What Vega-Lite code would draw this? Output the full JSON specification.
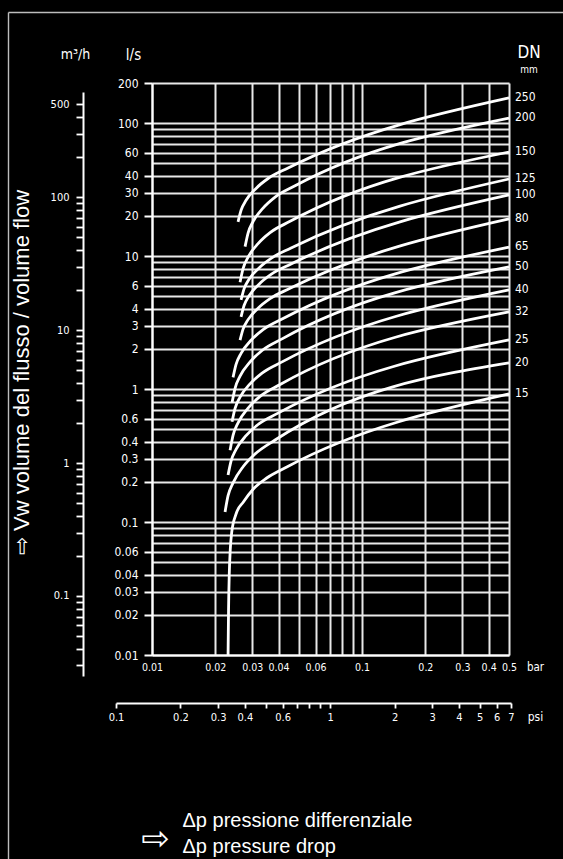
{
  "$schema": "https://vega.github.io/schema/vega-lite/v6.json",
  "background": "#000000",
  "width": 357,
  "height": 572,
  "autosize": {"type": "none"},
  "padding": {"left": 152, "top": 83, "right": 54, "bottom": 204},
  "config": {
    "view": {"stroke": null},
    "font": "Liberation Sans",
    "axis": {
      "labelColor": "#ffffff",
      "titleColor": "#ffffff",
      "domainColor": "#ffffff",
      "tickColor": "#ffffff",
      "gridColor": "#e8e8e8",
      "titleFontWeight": "normal",
      "labelFont": "Liberation Sans Narrow, DejaVu Sans Condensed, Liberation Sans",
      "titleFont": "Liberation Sans Narrow, DejaVu Sans Condensed, Liberation Sans"
    }
  },
  "datasets": {
    "curves": [
      {"dn": "250", "dp": 0.025676, "q": 18.08},
      {"dn": "250", "dp": 0.026535, "q": 22.08},
      {"dn": "250", "dp": 0.02803, "q": 26.26},
      {"dn": "250", "dp": 0.031278, "q": 32.25},
      {"dn": "250", "dp": 0.035676, "q": 38.27},
      {"dn": "250", "dp": 0.044425, "q": 45.92},
      {"dn": "250", "dp": 0.5, "q": 154.3},
      {"dn": "200", "dp": 0.027726, "q": 11.77},
      {"dn": "200", "dp": 0.028656, "q": 14.89},
      {"dn": "200", "dp": 0.030265, "q": 18.16},
      {"dn": "200", "dp": 0.033771, "q": 22.95},
      {"dn": "200", "dp": 0.038523, "q": 27.77},
      {"dn": "200", "dp": 0.047958, "q": 33.76},
      {"dn": "200", "dp": 0.5, "q": 109.1},
      {"dn": "150", "dp": 0.026244, "q": 6.359},
      {"dn": "150", "dp": 0.027125, "q": 8.04},
      {"dn": "150", "dp": 0.028656, "q": 9.809},
      {"dn": "150", "dp": 0.03197, "q": 12.4},
      {"dn": "150", "dp": 0.036467, "q": 15.0},
      {"dn": "150", "dp": 0.045397, "q": 18.23},
      {"dn": "150", "dp": 0.5, "q": 60.56},
      {"dn": "125", "dp": 0.026535, "q": 4.682},
      {"dn": "125", "dp": 0.027424, "q": 5.668},
      {"dn": "125", "dp": 0.028967, "q": 6.681},
      {"dn": "125", "dp": 0.032324, "q": 8.144},
      {"dn": "125", "dp": 0.036869, "q": 9.612},
      {"dn": "125", "dp": 0.045897, "q": 11.49},
      {"dn": "125", "dp": 0.5, "q": 37.95},
      {"dn": "100", "dp": 0.026535, "q": 3.488},
      {"dn": "100", "dp": 0.027424, "q": 4.243},
      {"dn": "100", "dp": 0.028967, "q": 5.021},
      {"dn": "100", "dp": 0.032324, "q": 6.145},
      {"dn": "100", "dp": 0.036869, "q": 7.272},
      {"dn": "100", "dp": 0.045897, "q": 8.708},
      {"dn": "100", "dp": 0.5, "q": 28.77},
      {"dn": "80", "dp": 0.026244, "q": 2.33},
      {"dn": "80", "dp": 0.027125, "q": 2.82},
      {"dn": "80", "dp": 0.028656, "q": 3.324},
      {"dn": "80", "dp": 0.03197, "q": 4.053},
      {"dn": "80", "dp": 0.036467, "q": 4.783},
      {"dn": "80", "dp": 0.045397, "q": 5.716},
      {"dn": "80", "dp": 0.5, "q": 18.99},
      {"dn": "65", "dp": 0.024308, "q": 1.223},
      {"dn": "65", "dp": 0.025119, "q": 1.531},
      {"dn": "65", "dp": 0.026535, "q": 1.854},
      {"dn": "65", "dp": 0.029609, "q": 2.325},
      {"dn": "65", "dp": 0.033771, "q": 2.797},
      {"dn": "65", "dp": 0.042055, "q": 3.388},
      {"dn": "65", "dp": 0.5, "q": 11.69},
      {"dn": "50", "dp": 0.024043, "q": 0.7895},
      {"dn": "50", "dp": 0.024847, "q": 1.012},
      {"dn": "50", "dp": 0.026244, "q": 1.249},
      {"dn": "50", "dp": 0.029286, "q": 1.597},
      {"dn": "50", "dp": 0.033403, "q": 1.949},
      {"dn": "50", "dp": 0.041597, "q": 2.383},
      {"dn": "50", "dp": 0.5, "q": 8.27},
      {"dn": "40", "dp": 0.024043, "q": 0.5679},
      {"dn": "40", "dp": 0.024847, "q": 0.7146},
      {"dn": "40", "dp": 0.026244, "q": 0.8685},
      {"dn": "40", "dp": 0.029286, "q": 1.093},
      {"dn": "40", "dp": 0.033403, "q": 1.319},
      {"dn": "40", "dp": 0.041597, "q": 1.6},
      {"dn": "40", "dp": 0.5, "q": 5.555},
      {"dn": "32", "dp": 0.023522, "q": 0.3459},
      {"dn": "32", "dp": 0.024308, "q": 0.4481},
      {"dn": "32", "dp": 0.025676, "q": 0.5572},
      {"dn": "32", "dp": 0.028656, "q": 0.7183},
      {"dn": "32", "dp": 0.032678, "q": 0.8812},
      {"dn": "32", "dp": 0.040694, "q": 1.081},
      {"dn": "32", "dp": 0.5, "q": 3.795},
      {"dn": "25", "dp": 0.023014, "q": 0.2259},
      {"dn": "25", "dp": 0.023781, "q": 0.287},
      {"dn": "25", "dp": 0.025119, "q": 0.3513},
      {"dn": "25", "dp": 0.02803, "q": 0.4458},
      {"dn": "25", "dp": 0.03197, "q": 0.5408},
      {"dn": "25", "dp": 0.039811, "q": 0.6588},
      {"dn": "25", "dp": 0.5, "q": 2.337},
      {"dn": "20", "dp": 0.022269, "q": 0.1191},
      {"dn": "20", "dp": 0.023014, "q": 0.1578},
      {"dn": "20", "dp": 0.024308, "q": 0.197},
      {"dn": "20", "dp": 0.027125, "q": 0.2605},
      {"dn": "20", "dp": 0.030937, "q": 0.3246},
      {"dn": "20", "dp": 0.038523, "q": 0.4135},
      {"dn": "20", "dp": 0.5, "q": 1.57},
      {"dn": "15", "dp": 0.023014, "q": 0.01},
      {"dn": "15", "dp": 0.023136, "q": 0.02181},
      {"dn": "15", "dp": 0.023314, "q": 0.03997},
      {"dn": "15", "dp": 0.02357, "q": 0.06161},
      {"dn": "15", "dp": 0.023962, "q": 0.08417},
      {"dn": "15", "dp": 0.025119, "q": 0.1149},
      {"dn": "15", "dp": 0.027213, "q": 0.1415},
      {"dn": "15", "dp": 0.030366, "q": 0.1772},
      {"dn": "15", "dp": 0.035172, "q": 0.2143},
      {"dn": "15", "dp": 0.043801, "q": 0.2593},
      {"dn": "15", "dp": 0.5, "q": 0.9178}
    ],
    "ends": [
      {"dn": "250", "dp": 0.5, "q": 154.3},
      {"dn": "200", "dp": 0.5, "q": 109.1},
      {"dn": "150", "dp": 0.5, "q": 60.56},
      {"dn": "125", "dp": 0.5, "q": 37.95},
      {"dn": "100", "dp": 0.5, "q": 28.77},
      {"dn": "80", "dp": 0.5, "q": 18.99},
      {"dn": "65", "dp": 0.5, "q": 11.69},
      {"dn": "50", "dp": 0.5, "q": 8.27},
      {"dn": "40", "dp": 0.5, "q": 5.555},
      {"dn": "32", "dp": 0.5, "q": 3.795},
      {"dn": "25", "dp": 0.5, "q": 2.337},
      {"dn": "20", "dp": 0.5, "q": 1.57},
      {"dn": "15", "dp": 0.5, "q": 0.9178}
    ]
  },
  "layer": [
    {
      "data": {"name": "curves"},
      "mark": {"type": "line", "interpolate": "monotone", "color": "#ffffff", "strokeWidth": 2.8},
      "encoding": {
        "x": {
          "field": "dp", "type": "quantitative",
          "scale": {"type": "log", "domain": [0.01, 0.5], "nice": false},
          "axis": {
            "orient": "bottom",
            "values": [0.01, 0.02, 0.03, 0.04, 0.05, 0.06, 0.07, 0.08, 0.09, 0.1, 0.2, 0.3, 0.4, 0.5],
            "format": "~g",
            "labelExpr": "indexof([0.05, 0.07, 0.08, 0.09], datum.value) >= 0 ? '' : datum.label",
            "grid": true, "gridWidth": 2, "gridColor": "#e8e8e8",
            "ticks": false,
            "domainWidth": 2,
            "labelPadding": 7, "labelFontSize": 10.5,
            "labelFlush": false, "labelOverlap": false, "labelBound": false,
            "title": "bar", "titleX": 383, "titleY": 12, "titleAngle": 0,
            "titleAlign": "center", "titleBaseline": "middle", "titleFontSize": 11.5
          }
        },
        "y": {
          "field": "q", "type": "quantitative",
          "scale": {"type": "log", "domain": [0.01, 200], "nice": false},
          "axis": {
            "orient": "left",
            "values": [200, 100, 90, 80, 70, 60, 50, 40, 30, 20, 10, 9, 8, 7, 6, 5, 4, 3, 2, 1, 0.9, 0.8, 0.7, 0.6, 0.5, 0.4, 0.3, 0.2, 0.1, 0.09, 0.08, 0.07, 0.06, 0.05, 0.04, 0.03, 0.02, 0.01],
            "format": "~g",
            "labelExpr": "indexof([200, 100, 60, 40, 30, 20, 10, 6, 4, 3, 2, 1, 0.6, 0.4, 0.3, 0.2, 0.1, 0.06, 0.04, 0.03, 0.02, 0.01], datum.value) >= 0 ? datum.label : ''",
            "grid": true, "gridWidth": 2, "gridColor": "#e8e8e8",
            "tickSize": 8, "tickWidth": 2,
            "tickOpacity": {"condition": {"test": "indexof([200, 100, 60, 40, 30, 20, 10, 6, 4, 3, 2, 1, 0.6, 0.4, 0.3, 0.2, 0.1, 0.06, 0.04, 0.03, 0.02, 0.01], datum.value) >= 0", "value": 1}, "value": 0},
            "domainWidth": 2,
            "labelPadding": 6, "labelFontSize": 12,
            "labelFlush": false, "labelOverlap": false, "labelBound": false,
            "title": "l/s", "titleX": -19, "titleY": -29, "titleAngle": 0,
            "titleAlign": "center", "titleBaseline": "middle", "titleFontSize": 15
          }
        },
        "detail": {"field": "dn", "type": "nominal"}
      }
    },
    {
      "data": {"name": "ends"},
      "mark": {"type": "text", "align": "left", "baseline": "middle", "dx": 6, "dy": -1, "color": "#ffffff", "fontSize": 12, "font": "Liberation Sans Narrow, DejaVu Sans Condensed, Liberation Sans"},
      "encoding": {
        "x": {
          "field": "dp", "type": "quantitative",
          "scale": {"type": "log", "domain": [0.01, 0.5], "nice": false},
          "axis": {
            "orient": "bottom",
            "ticks": false, "labels": false, "grid": false, "domain": false,
            "title": "⇨", "titleX": 3, "titleY": 184, "titleAngle": 0,
            "titleAlign": "center", "titleBaseline": "middle",
            "titleFont": "DejaVu Sans", "titleFontSize": 34
          }
        },
        "y": {
          "field": "q", "type": "quantitative",
          "scale": {"type": "log", "domain": [0.01, 200], "nice": false},
          "axis": null
        },
        "text": {"field": "dn", "type": "nominal"}
      }
    },
    {
      "data": {"values": [{"label": "DN"}]},
      "mark": {"type": "text", "align": "center", "baseline": "middle", "dx": 20, "dy": -30, "color": "#ffffff", "fontSize": 17, "font": "Liberation Sans Narrow, DejaVu Sans Condensed, Liberation Sans"},
      "encoding": {
        "x": {"datum": 0.5, "type": "quantitative", "scale": {"type": "log", "domain": [0.01, 0.5], "nice": false}, "axis": null},
        "y": {"datum": 200, "type": "quantitative", "scale": {"type": "log", "domain": [0.01, 200], "nice": false}, "axis": null},
        "text": {"field": "label", "type": "nominal"}
      }
    },
    {
      "data": {"values": [{"label": "mm"}]},
      "mark": {"type": "text", "align": "center", "baseline": "middle", "dx": 20, "dy": -13, "color": "#ffffff", "fontSize": 10, "font": "Liberation Sans Narrow, DejaVu Sans Condensed, Liberation Sans"},
      "encoding": {
        "x": {"datum": 0.5, "type": "quantitative", "scale": {"type": "log", "domain": [0.01, 0.5], "nice": false}, "axis": null},
        "y": {"datum": 200, "type": "quantitative", "scale": {"type": "log", "domain": [0.01, 200], "nice": false}, "axis": null},
        "text": {"field": "label", "type": "nominal"}
      }
    },
    {
      "data": {"values": [{"psi": 1, "m3h": 1}]},
      "mark": {"type": "point", "opacity": 0},
      "encoding": {
        "x": {
          "field": "psi", "type": "quantitative",
          "scale": {"type": "log", "domain": [0.1, 7], "range": [-36, 359], "nice": false},
          "axis": {
            "orient": "bottom", "offset": 48,
            "values": [0.1, 0.2, 0.3, 0.4, 0.5, 0.6, 0.7, 0.8, 0.9, 1, 2, 3, 4, 5, 6, 7],
            "format": "~g",
            "labelExpr": "indexof([0.5, 0.7, 0.8, 0.9], datum.value) >= 0 ? '' : datum.label",
            "grid": false,
            "tickSize": 5, "tickWidth": 1.8,
            "domainWidth": 1.8,
            "labelPadding": 3, "labelFontSize": 11,
            "labelFlush": false, "labelOverlap": false, "labelBound": false,
            "title": "psi", "titleX": 383, "titleY": 13, "titleAngle": 0,
            "titleAlign": "center", "titleBaseline": "middle", "titleFontSize": 12,
            "encode": {"ticks": {"update": {"y": {"value": -5}, "y2": {"value": 5}}}}
          }
        },
        "y": {
          "field": "m3h", "type": "quantitative",
          "scale": {"type": "log", "domain": [0.025, 620], "range": [593, 9], "nice": false},
          "axis": {
            "orient": "left", "offset": 69,
            "values": [500, 400, 300, 200, 100, 90, 80, 70, 60, 50, 40, 30, 20, 10, 9, 8, 7, 6, 5, 4, 3, 2, 1, 0.9, 0.8, 0.7, 0.6, 0.5, 0.4, 0.3, 0.2, 0.1, 0.09, 0.08, 0.07, 0.06, 0.05, 0.04, 0.03],
            "format": "~g",
            "labelExpr": "indexof([500, 100, 10, 1, 0.1], datum.value) >= 0 ? datum.label : ''",
            "grid": false,
            "tickSize": 7, "tickWidth": 1.8,
            "domainWidth": 2,
            "labelPadding": 7, "labelFontSize": 11,
            "labelFlush": false, "labelOverlap": false, "labelBound": false,
            "title": "m³/h", "titleX": -8, "titleY": -29, "titleAngle": 0,
            "titleAlign": "center", "titleBaseline": "middle", "titleFontSize": 14
          }
        }
      }
    },
    {
      "data": {"values": [{"u": 0.5, "v": 0.5}]},
      "mark": {"type": "point", "opacity": 0},
      "encoding": {
        "x": {
          "field": "u", "type": "quantitative",
          "scale": {"domain": [0, 1], "range": [-144, 411], "nice": false, "zero": false},
          "axis": {
            "orient": "top", "offset": 71,
            "ticks": false, "labels": false, "grid": false,
            "domainColor": "#bdbdbd", "domainWidth": 1.4,
            "title": ["Δp pressione differenziale", "Δp pressure drop"],
            "titleX": 30, "titleY": 798, "titleAngle": 0,
            "titleAlign": "left", "titleBaseline": "top",
            "titleFont": "Liberation Sans", "titleFontSize": 20, "titleLineHeight": 26
          }
        },
        "y": {
          "field": "v", "type": "quantitative",
          "scale": {"domain": [0, 1], "range": [776, -71], "nice": false, "zero": false},
          "axis": {
            "orient": "left", "offset": 144,
            "ticks": false, "labels": false, "grid": false,
            "domainColor": "#bdbdbd", "domainWidth": 1.4,
            "title": "⇨   Vw volume del flusso   /   volume flow",
            "titleX": 13, "titleY": 289, "titleAngle": -90,
            "titleAlign": "center", "titleBaseline": "middle",
            "titleFont": "Liberation Sans", "titleFontSize": 22
          }
        }
      }
    }
  ],
  "resolve": {"scale": {"x": "independent", "y": "independent"}}
}
